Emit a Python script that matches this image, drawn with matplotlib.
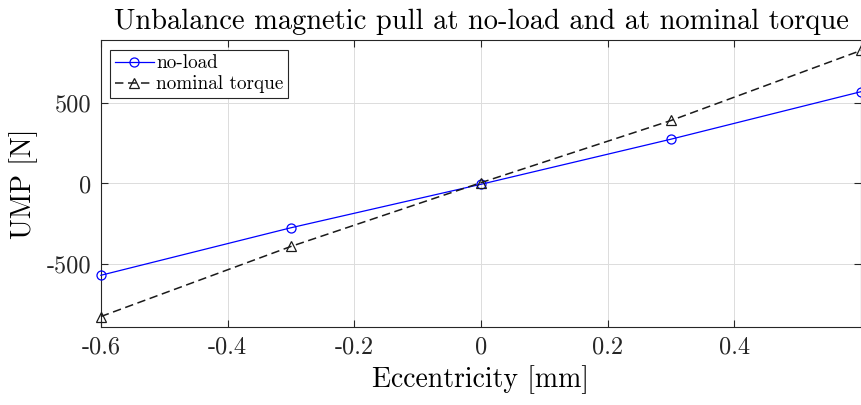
import matplotlib
matplotlib.use("Agg")
import matplotlib.pyplot as plt

eccentricity = [-0.6, -0.3, 0.0, 0.3, 0.6]
ump_noload = [-570, -275, -5, 275, 570]
ump_nominal = [-826, -391, 5, 391, 826]

plt.rcParams['font.family'] = ['cmr10', 'DejaVu Serif']
plt.rcParams['axes.unicode_minus'] = False
plt.rcParams['mathtext.fontset'] = 'cm'

fig = plt.figure(figsize=(8.62, 4.05), dpi=100)
ax = fig.add_axes([0.117, 0.193, 0.882, 0.708])

ax.plot(eccentricity, ump_noload, '-o', color='#0000ff', lw=0.9, ms=6.5,
        mfc='none', mew=0.9, label='no-load', clip_on=False, zorder=3)
ax.plot(eccentricity, ump_nominal, '--^', color='#1a1a1a', lw=1.1, ms=6.5,
        mfc='none', mew=0.9, dashes=(5.5, 3), label='nominal torque', clip_on=False, zorder=3)

ax.set_xlim(-0.6, 0.6)
ax.set_ylim(-890, 890)
ax.set_xticks([-0.6, -0.4, -0.2, 0, 0.2, 0.4])
ax.set_xticklabels(['-0.6', '-0.4', '-0.2', '0', '0.2', '0.4'])
ax.set_yticks([-500, 0, 500])
ax.set_yticklabels(['-500', '0', '500'])
ax.tick_params(direction='in', length=5, width=0.8, labelsize=17.5, colors='#262626',
               top=True, right=True, pad=7)
ax.grid(True, color='#dcdcdc', lw=0.7)
for s in ax.spines.values():
    s.set_color('#262626')
    s.set_linewidth(0.8)

ax.set_title("Unbalance magnetic pull at no-load and at nominal torque", fontsize=20.5, pad=8)
ax.set_xlabel("Eccentricity [mm]", fontsize=20, labelpad=5)
ax.set_ylabel("UMP [N]", fontsize=20, labelpad=6)

leg = ax.legend(loc='upper left', fontsize=13.8, fancybox=False, framealpha=1,
                edgecolor='#262626', borderpad=0.25, handlelength=2.0, handletextpad=0.15,
                labelspacing=0.15, borderaxespad=0.5)
leg.get_frame().set_linewidth(0.8)

fig.savefig("out.png", dpi=100)
